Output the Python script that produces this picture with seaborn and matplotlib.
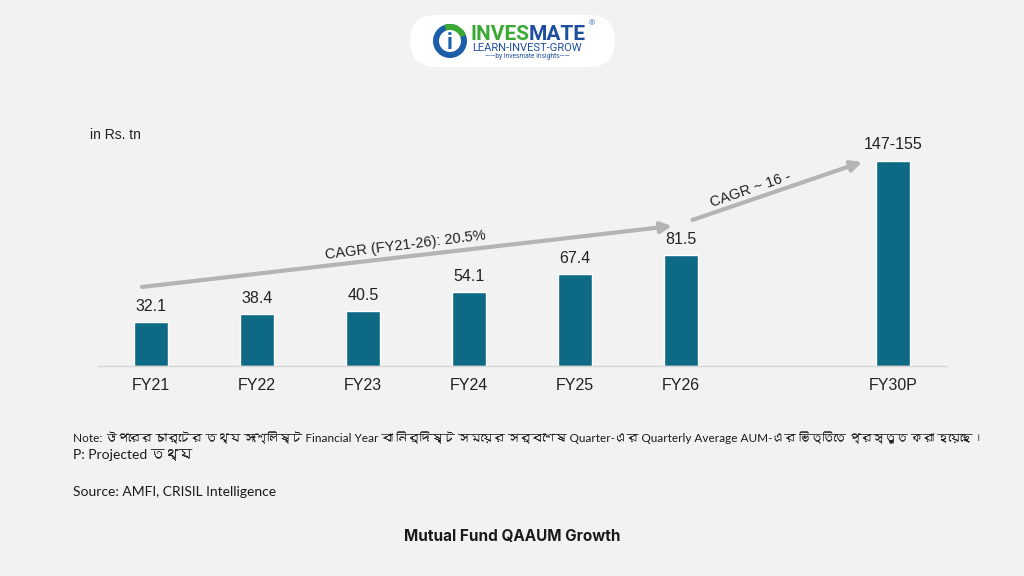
import matplotlib
matplotlib.use("Agg")
import matplotlib.pyplot as plt
from matplotlib import font_manager
from matplotlib.ft2font import FT2Font
from matplotlib.patches import FancyBboxPatch, Circle, Wedge
import seaborn as sns
import pandas as pd

# data
years = ["FY21", "FY22", "FY23", "FY24", "FY25", "FY26", "FY30P"]
aum = [32.1, 38.4, 40.5, 54.1, 67.4, 81.5, 151.0]
aum_labels = ["32.1", "38.4", "40.5", "54.1", "67.4", "81.5", "147-155"]
cagr_texts = ["CAGR (FY21-26): 20.5%", "CAGR ~ 16 -"]
note_line1 = ("Note: উপরের চার্টের তথ্য সংশ্লিষ্ট Financial Year বা নির্দিষ্ট সময়ের সর্বশেষ "
              "Quarter-এর Quarterly Average AUM-এর ভিত্তিতে প্রস্তুত করা হয়েছে।")
note_line2 = "P: Projected তথ্য"
source_text = "Source: AMFI, CRISIL Intelligence"
title_text = "Mutual Fund QAAUM Growth"

BAR = "#0e6a84"
BG = "#f2f2f2"
ARROW = "#b4b4b4"
TXT = "#222222"


def find_bengali_font():
    """Bengali glyph (উ) を持つフォントを探す"""
    for f in font_manager.fontManager.ttflist:
        try:
            if 0x0989 in FT2Font(f.fname).get_charmap():
                return f.name
        except Exception:
            continue
    return None


sns.set_theme(style="white")
bn = find_bengali_font()
note_family = ["Lato"] + ([bn] if bn else []) + ["DejaVu Sans"]
logo_family = ["Roboto", "DejaVu Sans"]
plt.rcParams["font.family"] = ["Liberation Sans", "DejaVu Sans"]

fig = plt.figure(figsize=(10.24, 5.76), dpi=100)
fig.patch.set_facecolor(BG)

ax = fig.add_axes([0.0957, 0.3646, 0.828, 0.3778])
ax.set_facecolor("none")
df = pd.DataFrame({"year": years, "aum": aum})
order = years[:6] + [""] + years[6:]
sns.barplot(data=df, x="year", y="aum", order=order, color=BAR, width=0.32,
            saturation=1, ax=ax)
ax.set_ylim(0, 160)
ax.set_xlim(-0.5, 7.5)
ax.set_xlabel("")
ax.set_ylabel("")
ax.set_yticks([])
for s in ["top", "right", "left"]:
    ax.spines[s].set_visible(False)
ax.spines["bottom"].set_color("#d6d6d6")
ax.spines["bottom"].set_linewidth(1)
ax.tick_params(axis="x", length=0, pad=9, labelsize=11.5, labelcolor=TXT)

for yr, v, lab in zip(years, aum, aum_labels):
    ax.text(order.index(yr), v + 6, lab, ha="center", va="bottom",
            fontsize=11.5, color=TXT)

# CAGR arrows
ax.annotate("", xy=(4.915, 102.9), xytext=(-0.085, 58.1),
            arrowprops=dict(arrowstyle="-|>", color=ARROW, lw=3, mutation_scale=16,
                            shrinkA=0, shrinkB=0))
ax.annotate("", xy=(6.71, 150.0), xytext=(5.11, 107.4),
            arrowprops=dict(arrowstyle="-|>", color=ARROW, lw=3, mutation_scale=16,
                            shrinkA=0, shrinkB=0))
ax.text(2.4, 88.5, cagr_texts[0], ha="center", va="center", rotation=7,
        fontsize=10.5, color=TXT, rotation_mode="anchor")
ax.text(5.66, 130, cagr_texts[1], ha="center", va="center", rotation=19,
        fontsize=10.5, color=TXT, rotation_mode="anchor")

fig.text(90 / 1024, 1 - 135 / 576, "in Rs. tn", fontsize=10, color=TXT,
         va="center", ha="left")

# notes
note1 = fig.text(73 / 1024, 1 - 438 / 576, note_line1, fontsize=10, color="#1a1a1a",
                 va="center", ha="left", family=note_family)
fig.text(73 / 1024, 1 - 455 / 576, note_line2, fontsize=10, color="#1a1a1a",
         va="center", ha="left", family=note_family)
fig.text(73 / 1024, 1 - 492 / 576, source_text, fontsize=10, color="#1a1a1a",
         va="center", ha="left", family=note_family)
fig.text(0.5, 1 - 537 / 576, title_text, fontsize=11, fontweight="bold",
         color="#1a1a1a", va="center", ha="center", family=["Inter", "DejaVu Sans"])

# logo
lg = fig.add_axes([410 / 1024, 1 - 67 / 576, 205 / 1024, 52 / 576])
lg.set_xlim(0, 205)
lg.set_ylim(0, 52)
lg.axis("off")
lg.add_patch(FancyBboxPatch((0, 0), 205, 52, boxstyle="round,pad=0,rounding_size=26",
                            fc="white", ec="none"))
lg.add_patch(Wedge((40, 26), 17, 60, 400, fc="#1d5ea8", ec="none"))
lg.add_patch(Wedge((40, 26), 17, 20, 110, fc="#3aaa35", ec="none"))
lg.add_patch(Circle((40, 26), 11, fc="white", ec="none"))
lg.text(40, 24, "i", ha="center", va="center", fontsize=16, fontweight="bold",
        color="#1d5ea8", family=logo_family)
inves = lg.text(60, 33, "INVES", ha="left", va="center", fontsize=15, fontweight="bold",
                color="#3aaa35", family=logo_family)
lg.text(179, 43, "®", ha="left", va="center", fontsize=6, color="#1d4f9c")
lg.text(117, 19, "LEARN-INVEST-GROW", ha="center", va="center", fontsize=8,
        color="#1d4f9c", family=logo_family)
lg.text(117, 10, "——by Invesmate Insights——", ha="center", va="center",
        fontsize=4.8, color="#1d4f9c", family=logo_family)

# 幅を測って MATE を INVES の直後に置き、注記は枠内に収まるよう縮める
fig.canvas.draw()
r = fig.canvas.get_renderer()
x_end = lg.transData.inverted().transform(inves.get_window_extent(r).get_points()[1])[0]
lg.text(x_end, 33, "MATE", ha="left", va="center", fontsize=15, fontweight="bold",
        color="#1d4f9c", family=logo_family)
w = note1.get_window_extent(r).width
if w > 910:
    note1.set_fontsize(10 * 910 / w)

fig.savefig("out.png", dpi=100, facecolor=BG)
